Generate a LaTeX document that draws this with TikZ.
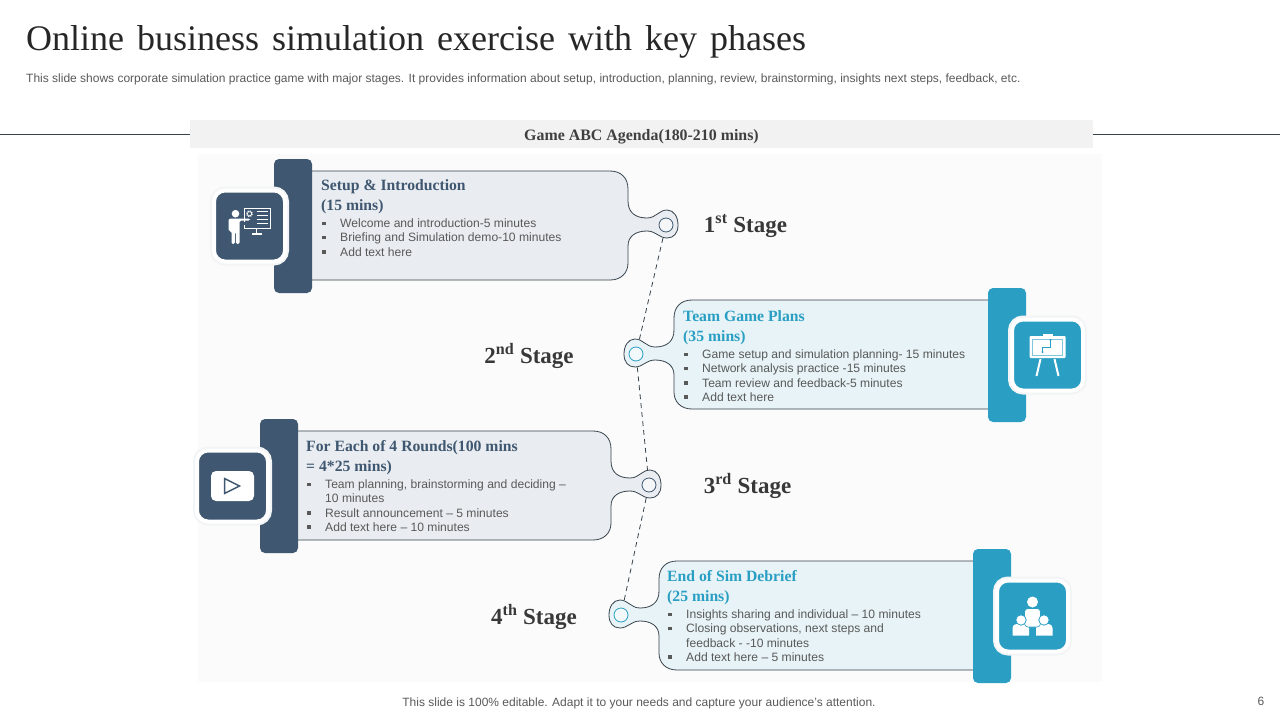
\documentclass[tikz,border=0pt]{standalone}
\usepackage{fontspec}
\setmainfont{Liberation Serif}
\setsansfont{Liberation Sans}
\usepackage{xcolor}
\usetikzlibrary{positioning}
\definecolor{slate}{HTML}{3F5770}
\definecolor{teal}{HTML}{2A9FC3}
\definecolor{slatepale}{HTML}{E9EDF1}
\definecolor{tealpale}{HTML}{E7F3F7}
\definecolor{bodygray}{HTML}{595959}
\definecolor{rimdark}{HTML}{36424C}
\definecolor{halo}{HTML}{F2F4F5}
\newcommand{\itm}{\makebox[19pt][l]{\hspace{1pt}\rule[2.5pt]{3.6pt}{3.6pt}}}
\newcommand{\cont}{\hspace*{19pt}}
\tikzset{
    headtext/.style={anchor=north west, inner sep=0pt, align=left,
        font=\rmfamily\bfseries\fontsize{15.7}{20}\selectfont},
    bodytext/.style={anchor=north west, inner sep=0pt, align=left, text=bodygray,
        font=\sffamily\fontsize{12.1}{14.2}\selectfont},
    stagetext/.style={text=black!78, font=\rmfamily\bfseries\fontsize{23}{26}\selectfont},
    badge/.style={rectangle, rounded corners=11pt, minimum size=71pt, inner sep=0pt,
        draw=white, line width=4pt, preaction={draw=halo, line width=8pt}},
    headring/.style={circle, minimum size=14pt, inner sep=0pt, line width=0.8pt},
    linkline/.style={draw=rimdark, line width=0.8pt, dash pattern=on 5pt off 4pt,
        shorten >=6pt, shorten <=6pt},
}
\begin{document}
\begin{tikzpicture}[x=1pt,y=-1pt]
    \useasboundingbox (0,0) rectangle (1280,720);
    \node[anchor=west, inner sep=0pt, font=\rmfamily\fontsize{36}{40}\selectfont, text=black!85] (title) at (26,42)
        {Online\hspace{4pt} business\hspace{4pt} simulation\hspace{4pt} exercise\hspace{4pt} with\hspace{4pt} key\hspace{4pt} phases};
    \node[anchor=west, inner sep=0pt, text=bodygray, font=\sffamily\fontsize{12}{14}\selectfont] (subtitle) at (26,79)
        {This slide shows corporate simulation practice game with major stages. It provides information about setup, introduction, planning, review, brainstorming, insights next steps, feedback, etc.};
    \coordinate (ruleL) at (0,134);
    \coordinate (ruleR) at (1280,134);
    \fill[black!1.5!white] (198,154) rectangle (1102,682);
    \node[fill=black!5, minimum width=903pt, minimum height=28pt, inner sep=0pt, text height=13.5pt, text depth=0pt,
        font=\rmfamily\bfseries\fontsize{15.9}{18}\selectfont, text=black!75] (band) at (641.5,134)
        {Game ABC Agenda(180-210 mins)};
    \draw[rimdark, line width=0.7pt] (ruleL) -- (band.west);
    \draw[rimdark, line width=0.7pt] (band.east) -- (ruleR);

    \foreach \n/\hx/\hy/\d/\bx/\bg/\c/\p in {1/666/225/1/354/416.5/slate/slatepale,
                                              2/636/354/-1/352/411.5/teal/tealpale,
                                              3/649/485/1/351/416.5/slate/slatepale,
                                              4/621/615/-1/352/411.5/teal/tealpale}{
        \begin{scope}[shift={(\hx,\hy)},xscale=\d]
            \filldraw[fill=\p, draw=rimdark, line width=0.8pt]
                (-\bx,-54) -- (-56,-54) .. controls (-45,-54) and (-38,-47) .. (-38,-36)
                -- (-38,-24) .. controls (-38,-12) and (-30,-7) .. (-19,-7)
                .. controls (-10,-7) and (-7,-15) .. (1,-15)
                .. controls (8,-15) and (12,-8) .. (12,0)
                .. controls (12,8) and (8,13) .. (1,13)
                .. controls (-7,13) and (-10,6) .. (-19,6)
                .. controls (-30,6) and (-38,11) .. (-38,21)
                -- (-38,38) .. controls (-38,48) and (-45,55) .. (-56,55) -- (-\bx,55);
            \fill[\c, rounded corners=5pt] (-\bx-38,-66) rectangle (-\bx,68);
            \node[headring, draw=\c, fill=\p!50!white] (head\n) at (0,0) {};
            \node[badge, fill=\c] (badge\n) at (-\bg,1) {};
        \end{scope}
    }

    \draw[linkline] (head1) -- (head2);
    \draw[linkline] (head2) -- (head3);
    \draw[linkline] (head3) -- (head4);

    % card text
    \node[headtext, text=slate] (plan1) at (321,179) {Setup \& Introduction\\(15 mins)};
    \node[bodytext, below=5pt of plan1.south west, anchor=north west] (list1)
        {\itm Welcome and introduction-5 minutes\\
         \itm Briefing and Simulation demo-10 minutes\\
         \itm Add text here};
    \node[headtext, text=teal] (plan2) at (683,310) {Team Game Plans\\(35 mins)};
    \node[bodytext, below=5pt of plan2.south west, anchor=north west] (list2)
        {\itm Game setup and simulation planning- 15 minutes\\
         \itm Network analysis practice -15 minutes\\
         \itm Team review and feedback-5 minutes\\
         \itm Add text here};
    \node[headtext, text=slate] (plan3) at (306,440) {For Each of 4 Rounds(100 mins\\= 4*25 mins)};
    \node[bodytext, below=5pt of plan3.south west, anchor=north west] (list3)
        {\itm Team planning, brainstorming and deciding --\\
         \cont 10 minutes\\
         \itm Result announcement -- 5 minutes\\
         \itm Add text here -- 10 minutes};
    \node[headtext, text=teal] (plan4) at (667,570) {End of Sim Debrief\\(25 mins)};
    \node[bodytext, below=5pt of plan4.south west, anchor=north west] (list4)
        {\itm Insights sharing and individual -- 10 minutes\\
         \itm Closing observations, next steps and\\
         \cont feedback - -10 minutes\\
         \itm Add text here -- 5 minutes};

    \node[stagetext] (stage1) at (745.5,226) {1\textsuperscript{st} Stage};
    \node[stagetext] (stage2) at (529,356) {2\textsuperscript{nd} Stage};
    \node[stagetext] (stage3) at (747.5,486) {3\textsuperscript{rd} Stage};
    \node[stagetext] (stage4) at (534,617) {4\textsuperscript{th} Stage};

    % presenter
    \begin{scope}[shift={(badge1.center)}]
        \fill[white] (-14,-12.3) circle (3.8);
        \fill[white, rounded corners=1.5pt] (-21,-7.5) -- (0.5,-7.5) -- (0.5,-5.5) -- (-10,-5.5)
            -- (-10,18) -- (-13.6,18) -- (-13.6,6) -- (-14.6,6) -- (-14.6,18) -- (-18,18)
            -- (-18,5) -- (-21,5) -- cycle;
        \draw[white, line width=0.9pt] (-5,-4) -- (-5,-18) -- (21,-18) -- (21,2) -- (-5,2) -- (-5,-1);
        \draw[white, line width=1.2pt] (7,2) -- (7,8) (2.5,8) -- (12,8);
        \draw[white, line width=1.6pt, dash pattern=on 1.2pt off 0.8pt] (0,-12.3) circle (2.6);
        \draw[white, line width=0.9pt] (7,-15) -- (18,-15) (7,-11) -- (18,-11) (7,-7) -- (18,-7) (7,-3) -- (18,-3);
    \end{scope}

    % easel
    \begin{scope}[shift={(badge2.center)}]
        \fill[white] (-5,-21) rectangle (5,-18);
        \fill[white, rounded corners=1pt] (-18,-19) rectangle (18,3);
        \draw[teal!60, line width=0.4pt] (-15,-16) rectangle (15,0);
        \draw[teal, line width=0.5pt] (3,-14) -- (3,-8) -- (-5,-8) -- (-5,-3);
        \fill[teal] (3,-15) circle (1.2) (-5,-3) circle (1.2);
        \draw[white, line width=2pt] (-7,4) -- (-11,21) (7,4) -- (11,21);
    \end{scope}

    % play button
    \node[fill=white, rounded corners=5pt, minimum width=43pt, minimum height=30pt, inner sep=0pt]
        (screen3) at (badge3.center) {};
    \begin{scope}[shift={(badge3.center)}]
        \draw[slate, line width=1.5pt, line join=miter] (-8,-7.5) -- (7,0) -- (-8,7.5) -- cycle;
    \end{scope}

    % group
    \begin{scope}[shift={(badge4.center)}]
        \foreach \s in {-1,1}{
            \fill[white] ({\s*3.5},19.5) [rounded corners=4pt] -- ({\s*3.5},8) -- ({\s*20},8)
                [sharp corners] -- ({\s*20},19.5) -- cycle;
        }
        \fill[white] (0,-14) circle (5.5);
        \filldraw[white, draw=teal, line width=0.6pt, rounded corners=3.5pt] (-8,-7.5) rectangle (8,11);
        \foreach \s in {-1,1}{
            \filldraw[white, draw=teal, line width=0.8pt] ({\s*11.5},4) circle (5.2);
        }
    \end{scope}

    \node[inner sep=0pt, text=bodygray, font=\sffamily\fontsize{12}{14}\selectfont] (footer) at (639,703)
        {This slide is 100\% editable. Adapt it to your needs and capture your audience's attention.};
    \node[inner sep=0pt, text=bodygray, font=\sffamily\fontsize{12}{14}\selectfont] (pageno) at (1261,701) {6};
\end{tikzpicture}
\end{document}
